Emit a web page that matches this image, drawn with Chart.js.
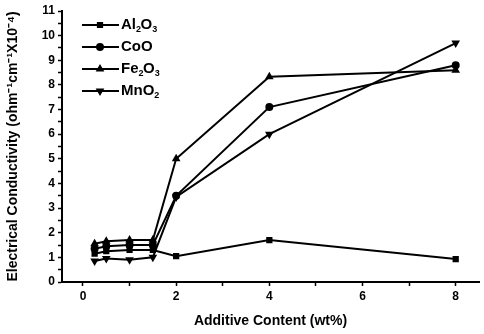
<!DOCTYPE html>
<html><head><meta charset="utf-8">
<script src="https://cdn.jsdelivr.net/npm/chart.js@4/dist/chart.umd.min.js"></script>
<style>html,body{margin:0;padding:0;background:#fff;}#wrap{width:484px;height:334px;}</style>
</head><body><div id="wrap"><canvas id="c" width="484" height="334"></canvas></div>
<script>
const xValues = [0.25, 0.5, 1, 1.5, 2, 4, 8];
const al2o3 = [1.15, 1.25, 1.3, 1.3, 1.05, 1.7, 0.93];
const coo   = [1.35, 1.45, 1.5, 1.5, 3.5, 7.1, 8.8];
const fe2o3 = [1.55, 1.65, 1.7, 1.7, 5.0, 8.33, 8.6];
const mno2  = [0.85, 0.95, 0.9, 1.0, 3.45, 6.0, 9.7];
const seriesNames = [['Al','2','O','3'], ['CoO'], ['Fe','2','O','3'], ['MnO','2']];
const xTickLabels = [0, 2, 4, 6, 8];
const yTickLabels = [0,1,2,3,4,5,6,7,8,9,10,11];

const FONT = "'Liberation Sans Narrow','Liberation Sans',Arial,sans-serif";
const pts = arr => arr.map((v,i)=>({x:xValues[i], y:v}));
const styles = ['rect','circle','triangle','triangle'];
const rots = [0,0,0,180];
const data = [al2o3, coo, fe2o3, mno2];

const datasets = data.map((d,i)=>({
  label: seriesNames[i].join(''),
  data: pts(d),
  borderColor:'#000', backgroundColor:'#000',
  borderWidth:2, pointStyle:styles[i], rotation:rots[i],
  pointRadius:3, pointHoverRadius:3, tension:0
}));

const legendPlugin = {
  id:'customLegend',
  afterDraw(chart){
    const ctx = chart.ctx;
    const rows = [25,47,69,91];
    ctx.save();
    rows.forEach((y,i)=>{
      ctx.strokeStyle='#000'; ctx.lineWidth=2;
      ctx.beginPath(); ctx.moveTo(82,y); ctx.lineTo(119,y); ctx.stroke();
      Chart.helpers.drawPoint(ctx,{pointStyle:styles[i],rotation:rots[i],radius:3,borderWidth:1},100,y);
      ctx.fillStyle='#000';
      ctx.textBaseline='middle';
      let x = 121;
      seriesNames[i].forEach((part,j)=>{
        const sub = /^\d$/.test(part);
        ctx.font = (sub? 'bold 9px ':'bold 15px ')+FONT;
        ctx.fillText(part, x, sub? y+5 : y);
        x += ctx.measureText(part).width + (sub? -0.5:0);
      });
    });
    ctx.restore();
  }
};

new Chart(document.getElementById('c'),{
  type:'line',
  data:{datasets},
  options:{
    responsive:false, animation:false, devicePixelRatio:1,
    layout:{padding:{top:11,right:0,left:0,bottom:0}},
    plugins:{legend:{display:false}, tooltip:{enabled:false}},
    scales:{
      x:{type:'linear', min:-0.45, max:8.5,
        border:{display:true,color:'#000',width:2},
        grid:{display:true,drawOnChartArea:false,drawTicks:true,tickLength:4,tickColor:'#000',tickWidth:1.5},
        ticks:{stepSize:1, includeBounds:false, autoSkip:false, maxRotation:0, color:'#000', padding:3,
          font:{family:FONT,size:12,weight:'bold'},
          callback:(v)=> xTickLabels.includes(v) ? String(v) : ''},
        title:{display:true,text:'Additive Content (wt%)',color:'#000',font:{family:FONT,size:14,weight:'bold'},padding:{top:5}},
        afterFit(s){s.height=52;}
      },
      y:{type:'linear', min:0, max:11,
        border:{display:true,color:'#000',width:2},
        grid:{display:true,drawOnChartArea:false,drawTicks:true,tickLength:4,tickColor:'#000',tickWidth:1.5},
        ticks:{stepSize:0.5, autoSkip:false, color:'#000', padding:3,
          font:{family:FONT,size:12,weight:'bold'},
          callback:(v)=> yTickLabels.includes(v) ? String(v) : ''},
        title:{display:true,text:'Electrical Conductivity (ohm\u207B\u00B9cm\u207B\u00B9X10\u207B\u2074)',color:'#000',font:{family:FONT,size:14,weight:'bold'},padding:{top:5,bottom:0}},
        afterFit(s){s.width=62;}
      }
    }
  },
  plugins:[legendPlugin]
});
</script></body></html>
